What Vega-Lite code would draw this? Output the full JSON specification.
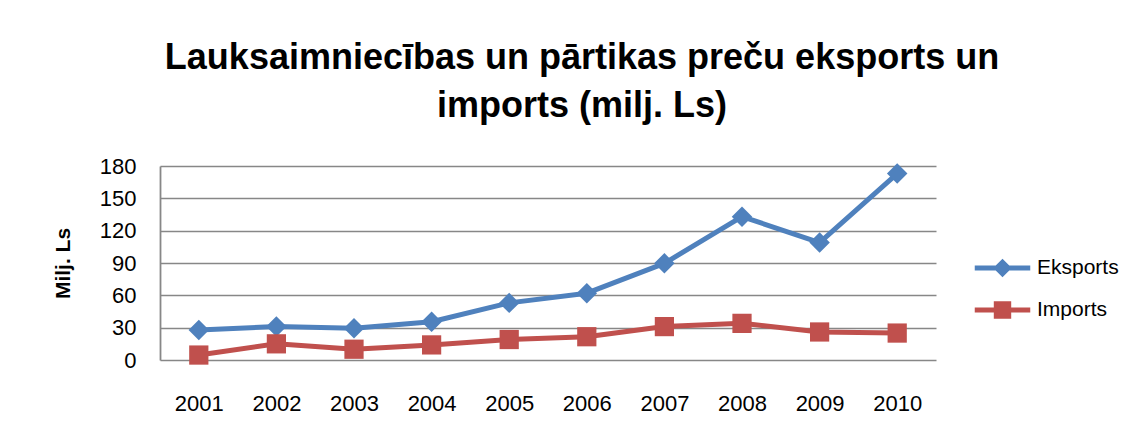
{
  "$schema": "https://vega.github.io/schema/vega-lite/v6.json",
  "width": 776,
  "height": 194,
  "autosize": {"type": "none"},
  "padding": {"left": 160, "top": 166, "right": 208, "bottom": 82},
  "background": "white",
  "config": {"view": {"stroke": null}, "font": "Liberation Sans"},
  "title": {
    "text": ["Lauksaimniecības un pārtikas preču eksports un", "imports (milj. Ls)"],
    "font": "Liberation Sans",
    "fontSize": 36,
    "fontWeight": "bold",
    "color": "black",
    "anchor": "middle",
    "frame": "group",
    "dx": 34,
    "offset": -6,
    "baseline": "bottom",
    "lineHeight": 48
  },
  "data": {
    "values": [
      {"year": "2001", "series": "Eksports", "value": 27.8},
      {"year": "2002", "series": "Eksports", "value": 31},
      {"year": "2003", "series": "Eksports", "value": 29.5},
      {"year": "2004", "series": "Eksports", "value": 35.5},
      {"year": "2005", "series": "Eksports", "value": 53},
      {"year": "2006", "series": "Eksports", "value": 62},
      {"year": "2007", "series": "Eksports", "value": 89.7},
      {"year": "2008", "series": "Eksports", "value": 133},
      {"year": "2009", "series": "Eksports", "value": 109},
      {"year": "2010", "series": "Eksports", "value": 173},
      {"year": "2001", "series": "Imports", "value": 4.6},
      {"year": "2002", "series": "Imports", "value": 15},
      {"year": "2003", "series": "Imports", "value": 10},
      {"year": "2004", "series": "Imports", "value": 14},
      {"year": "2005", "series": "Imports", "value": 19},
      {"year": "2006", "series": "Imports", "value": 21.6},
      {"year": "2007", "series": "Imports", "value": 31},
      {"year": "2008", "series": "Imports", "value": 34},
      {"year": "2009", "series": "Imports", "value": 26},
      {"year": "2010", "series": "Imports", "value": 25}
    ]
  },
  "encoding": {
    "x": {
      "field": "year",
      "type": "ordinal",
      "scale": {"type": "point", "padding": 0.5},
      "axis": {
        "title": null,
        "labelAngle": 0,
        "ticks": false,
        "tickSize": 0,
        "domain": false,
        "grid": false,
        "labelPadding": 33,
        "labelFont": "Liberation Sans",
        "labelFontSize": 22,
        "labelColor": "black"
      }
    },
    "y": {
      "field": "value",
      "type": "quantitative",
      "scale": {"domain": [0, 180], "nice": false, "zero": true},
      "axis": {
        "title": "Milj. Ls",
        "titleFont": "Liberation Sans",
        "titleFontSize": 21,
        "titleFontWeight": "bold",
        "titleColor": "black",
        "titlePadding": 26,
        "values": [0, 30, 60, 90, 120, 150, 180],
        "grid": true,
        "gridColor": "#878787",
        "gridWidth": 1.6,
        "domain": true,
        "domainColor": "#878787",
        "domainWidth": 1.8,
        "ticks": false,
        "tickSize": 0,
        "labelPadding": 24,
        "labelFont": "Liberation Sans",
        "labelFontSize": 22,
        "labelColor": "black"
      }
    },
    "color": {
      "field": "series",
      "type": "nominal",
      "scale": {"domain": ["Eksports", "Imports"], "range": ["#4F81BD", "#C0504D"]},
      "legend": {
        "title": null,
        "orient": "none",
        "legendX": 827.5,
        "legendY": 87,
        "padding": 0,
        "symbolSize": 900,
        "symbolOffset": 0,
        "symbolStrokeWidth": 0,
        "labelOffset": 19.5,
        "rowPadding": 17,
        "labelFont": "Liberation Sans",
        "labelFontSize": 21,
        "labelColor": "black",
        "encode": {
          "symbols": {
            "update": {
              "shape": {"signal": "datum.value === 'Eksports' ? 'M-1.85,-0.16H1.85V0.16H-1.85Z M0,-0.62L0.62,0L0,0.62L-0.62,0Z' : 'M-1.85,-0.16H1.85V0.16H-1.85Z M-0.58,-0.58H0.58V0.58H-0.58Z'"},
              "size": {"value": 900},
              "fill": {"signal": "datum.value === 'Eksports' ? '#4F81BD' : '#C0504D'"},
              "fillOpacity": {"value": 1},
              "opacity": {"value": 1},
              "strokeWidth": {"value": 0}
            }
          }
        }
      }
    }
  },
  "layer": [
    {
      "mark": {"type": "line", "strokeWidth": 5, "strokeCap": "round", "strokeJoin": "round"}
    },
    {
      "transform": [{"filter": "datum.series === 'Eksports'"}],
      "mark": {"type": "point", "filled": true, "opacity": 1, "shape": "diamond", "size": 420}
    },
    {
      "transform": [{"filter": "datum.series === 'Imports'"}],
      "mark": {"type": "point", "filled": true, "opacity": 1, "shape": "square", "size": 370}
    }
  ]
}
